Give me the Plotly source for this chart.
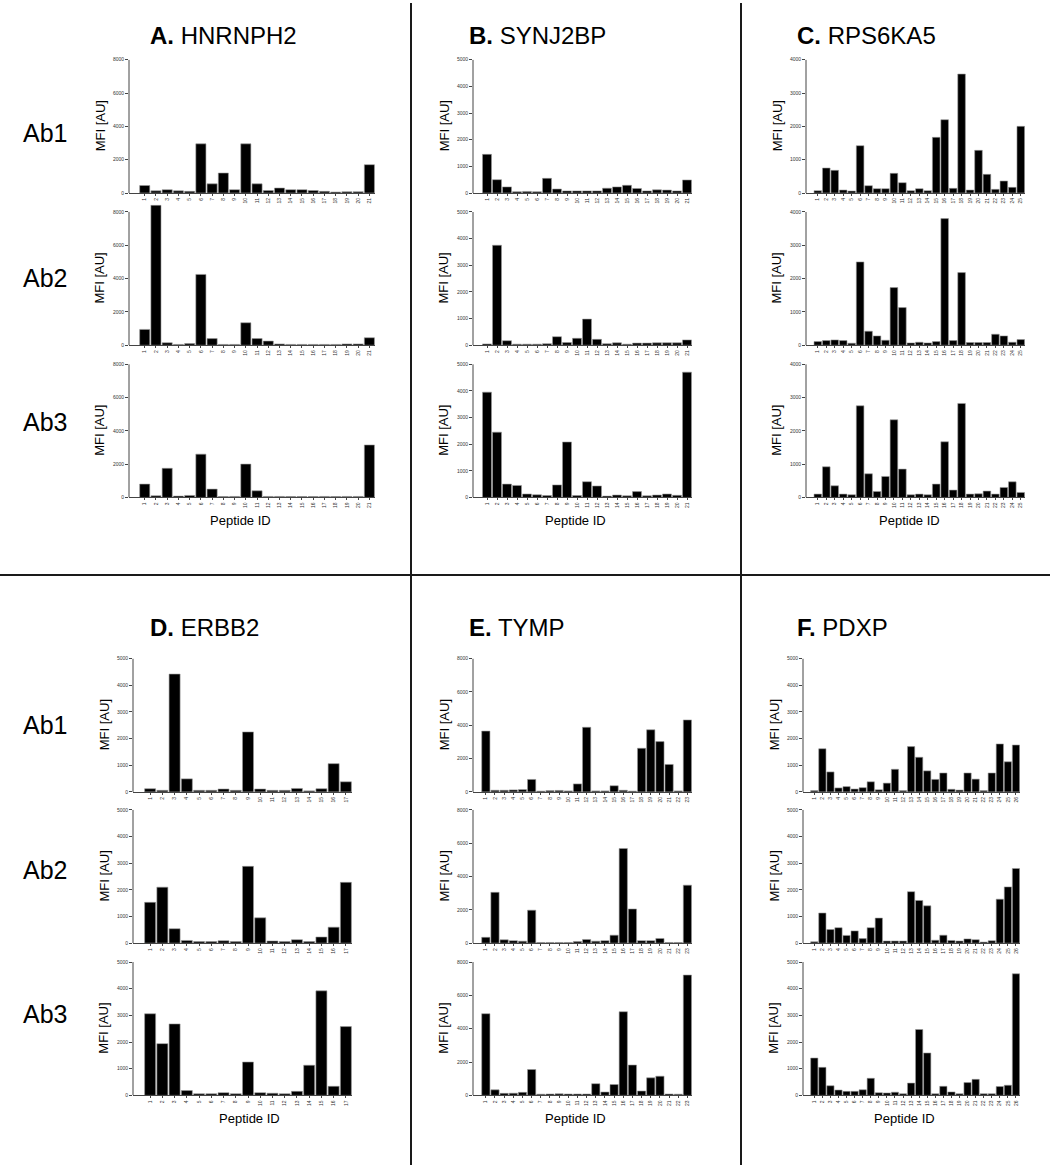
import plotly.graph_objects as go

W, H = 1050, 1168

# ---------------- data ----------------
panel_titles = ["A.", "B.", "C.", "D.", "E.", "F."]
panel_genes = ["HNRNPH2", "SYNJ2BP", "RPS6KA5", "ERBB2", "TYMP", "PDXP"]
row_labels = ["Ab1", "Ab2", "Ab3"]
y_max = [8000, 5000, 4000, 5000, 8000, 5000]
y_step = [2000, 1000, 1000, 1000, 2000, 1000]

A_ab1 = [450, 130, 200, 130, 100, 2950, 550, 1200, 200, 2950, 550, 150, 300, 200, 200, 150, 100, 60, 80, 80, 1700]
A_ab2 = [950, 8400, 150, 50, 100, 4250, 400, 50, 50, 1350, 400, 250, 80, 50, 50, 50, 50, 50, 80, 80, 450]
A_ab3 = [800, 100, 1750, 80, 120, 2600, 500, 50, 60, 2000, 400, 60, 60, 50, 50, 50, 60, 50, 60, 60, 3150]

B_ab1 = [1450, 500, 230, 50, 60, 50, 550, 150, 80, 80, 80, 80, 180, 230, 290, 170, 80, 120, 110, 80, 490]
B_ab2 = [50, 3750, 170, 40, 40, 40, 60, 320, 100, 260, 980, 220, 60, 90, 40, 80, 80, 90, 90, 90, 200]
B_ab3 = [3950, 2450, 500, 450, 130, 100, 70, 470, 2080, 70, 590, 430, 50, 90, 60, 220, 60, 90, 130, 80, 4700]

C_ab1 = [70, 750, 680, 90, 60, 1420, 220, 130, 130, 590, 310, 70, 130, 70, 1670, 2200, 140, 3570, 90, 1280, 560, 110, 360, 170, 2000]
C_ab2 = [110, 140, 160, 140, 60, 2500, 420, 280, 150, 1730, 1130, 70, 90, 70, 110, 3800, 140, 2180, 80, 80, 80, 330, 280, 90, 170]
C_ab3 = [100, 920, 350, 100, 80, 2750, 710, 180, 630, 2330, 850, 80, 100, 80, 400, 1670, 220, 2820, 100, 110, 190, 100, 300, 470, 150]

D_ab1 = [120, 60, 4420, 490, 60, 60, 110, 60, 2250, 110, 60, 60, 130, 40, 120, 1060, 380]
D_ab2 = [1530, 2100, 540, 100, 60, 60, 90, 60, 2880, 950, 80, 60, 130, 60, 230, 600, 2280]
D_ab3 = [3060, 1940, 2680, 180, 60, 60, 100, 60, 1250, 100, 80, 60, 150, 1130, 3920, 340, 2580]

E_ab1 = [3650, 100, 100, 120, 140, 750, 50, 80, 90, 60, 480, 3880, 60, 60, 370, 100, 50, 2620, 3730, 3020, 1650, 60, 4320]
E_ab2 = [350, 3050, 200, 150, 120, 1980, 40, 40, 40, 40, 100, 220, 120, 150, 480, 5680, 2050, 150, 150, 280, 40, 40, 3480]
E_ab3 = [4900, 330, 120, 130, 180, 1550, 70, 80, 90, 80, 80, 80, 700, 200, 650, 5020, 1820, 260, 1050, 1150, 80, 70, 7220]

F_ab1 = [50, 1620, 750, 150, 200, 110, 160, 380, 80, 330, 850, 50, 1700, 1300, 790, 470, 710, 100, 70, 710, 480, 50, 710, 1800, 1130, 1760]
F_ab2 = [50, 1130, 510, 580, 290, 460, 170, 580, 940, 80, 80, 80, 1930, 1600, 1400, 110, 300, 100, 80, 160, 130, 40, 90, 1650, 2110, 2800]
F_ab3 = [1400, 1050, 360, 200, 150, 150, 210, 640, 100, 90, 120, 60, 460, 2470, 1590, 60, 340, 130, 60, 480, 600, 60, 60, 330, 380, 4560]

panel_data = [
    [A_ab1, A_ab2, A_ab3],
    [B_ab1, B_ab2, B_ab3],
    [C_ab1, C_ab2, C_ab3],
    [D_ab1, D_ab2, D_ab3],
    [E_ab1, E_ab2, E_ab3],
    [F_ab1, F_ab2, F_ab3],
]

# ---------------- layout geometry (pixels) ----------------
x_spans = [(129, 375), (473, 692), (806, 1025), (133, 352), (473, 692), (803, 1020)]
zeros_top = [191, 344, 497]
zeros_bot = [793, 945, 1098]
plot_h = 134
title_x = [148, 467, 795, 148, 467, 795]
title_y = [33, 33, 33, 628, 628, 628]
peptide_x = [240, 575, 909, 249, 575, 904]
peptide_y = [520, 520, 520, 1121, 1121, 1121]
row_label_y_top = [131, 276, 421]
row_label_y_bot = [726, 871, 1016]

FONT = "Arial, Liberation Sans, sans-serif"
AXC = "#444"


def px_x(p):
    return p / W


def px_y(p):
    return 1 - p / H


fig = go.Figure()
layout = {}
annotations = []
shapes = []

k = 0
for pi in range(6):
    zeros = zeros_top if pi < 3 else zeros_bot
    x0, x1 = x_spans[pi]
    for ri in range(3):
        k += 1
        vals = panel_data[pi][ri]
        n = len(vals)
        cats = list(range(1, n + 1))
        xa = "x" if k == 1 else f"x{k}"
        ya = "y" if k == 1 else f"y{k}"
        fig.add_trace(go.Bar(
            x=cats, y=vals, xaxis=xa, yaxis=ya,
            marker=dict(color="black", line=dict(color="#9a9a9a", width=0.6)),
            showlegend=False, hoverinfo="x+y",
        ))
        z = zeros[ri]
        ym = y_max[pi]
        top_val = max(ym, max(vals) * 1.005)
        h_px = plot_h * top_val / ym
        xname = "xaxis" if k == 1 else f"xaxis{k}"
        yname = "yaxis" if k == 1 else f"yaxis{k}"
        layout[xname] = dict(
            domain=[px_x(x0), px_x(x1)],
            anchor=ya,
            range=[-0.4, n + 0.5],
            tickmode="array", tickvals=cats, ticktext=[str(c) for c in cats],
            tickangle=-90, tickfont=dict(size=5, color="#333", family=FONT),
            ticks="outside", ticklen=2, tickwidth=0.6, tickcolor=AXC,
            showline=True, linecolor=AXC, linewidth=1,
            showgrid=False, zeroline=False, fixedrange=True,
        )
        layout[yname] = dict(
            domain=[px_y(z), px_y(z - h_px)],
            anchor=xa,
            range=[0, top_val],
            tickmode="linear", tick0=0, dtick=y_step[pi],
            tickfont=dict(size=5, color="#333", family=FONT),
            ticks="outside", ticklen=3, tickwidth=0.6, tickcolor=AXC,
            showline=False,
            showgrid=False, zeroline=False, fixedrange=True,
        )
        # y axis line only up to the top tick
        shapes.append(dict(type="line", xref="paper", yref=ya,
                           x0=px_x(x0), x1=px_x(x0), y0=0, y1=ym,
                           line=dict(color=AXC, width=1)))
        # MFI label
        annotations.append(dict(
            x=px_x(x0 - 29), y=px_y(z - plot_h / 2), xref="paper", yref="paper",
            text="MFI [AU]", textangle=-90, showarrow=False,
            font=dict(size=13, family=FONT, color="black"),
            xanchor="center", yanchor="middle",
        ))
    # panel title
    annotations.append(dict(
        x=px_x(title_x[pi]), y=px_y(title_y[pi]), xref="paper", yref="paper",
        text=f"<b>{panel_titles[pi]}</b> {panel_genes[pi]}", showarrow=False,
        font=dict(size=24, family=FONT, color="black"),
        xanchor="left", yanchor="middle",
    ))
    # Peptide ID
    annotations.append(dict(
        x=px_x(peptide_x[pi]), y=px_y(peptide_y[pi]), xref="paper", yref="paper",
        text="Peptide ID", showarrow=False,
        font=dict(size=13, family=FONT, color="black"),
        xanchor="center", yanchor="middle",
    ))

# row labels
for ri, lab in enumerate(row_labels):
    for yy in (row_label_y_top[ri], row_label_y_bot[ri]):
        annotations.append(dict(
            x=px_x(45), y=px_y(yy), xref="paper", yref="paper",
            text=lab, showarrow=False,
            font=dict(size=25, family=FONT, color="black"),
            xanchor="center", yanchor="middle",
        ))

# separator lines
line_style = dict(color="#1a1a1a", width=2)
shapes.append(dict(type="line", xref="paper", yref="paper",
                   x0=px_x(411), x1=px_x(411), y0=0, y1=1, line=line_style))
shapes.append(dict(type="line", xref="paper", yref="paper",
                   x0=px_x(741), x1=px_x(741), y0=0, y1=1, line=line_style))
shapes.append(dict(type="line", xref="paper", yref="paper",
                   x0=0, x1=1, y0=px_y(575), y1=px_y(575), line=line_style))

fig.update_layout(
    width=W, height=H,
    margin=dict(l=0, r=0, t=0, b=0),
    paper_bgcolor="white", plot_bgcolor="white",
    bargap=0.1,
    font=dict(family=FONT),
    annotations=annotations,
    shapes=shapes,
    **layout,
)

fig.write_html(
    "out.html",
    config={"displayModeBar": False},
    post_script="document.body.style.margin='0';document.body.style.padding='0';",
)
